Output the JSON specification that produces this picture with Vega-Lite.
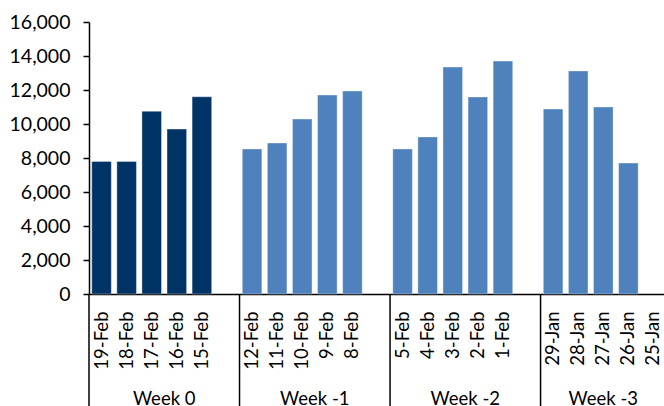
{
  "$schema": "https://vega.github.io/schema/vega-lite/v6.json",
  "autosize": "none",
  "padding": {"left": 89, "top": 22, "right": 0, "bottom": 112},
  "width": 577,
  "height": 272,
  "background": "white",
  "config": {
    "view": {"stroke": null},
    "font": "Lato",
    "axis": {"labelFont": "Lato", "labelColor": "#000", "labelFontSize": 18.5, "domainColor": "#000", "tickColor": "#000", "grid": false, "title": null, "labelOverlap": false},
    "axisX": {"labelAngle": -90, "labelAlign": "right", "labelBaseline": "middle", "labelPadding": 17, "ticks": false, "domainWidth": 1.5},
    "axisY": {"values": [0, 2000, 4000, 6000, 8000, 10000, 12000, 14000, 16000], "format": ",.0f", "formatType": "number", "tickSize": 6, "tickWidth": 1.5, "domainWidth": 1.5, "labelPadding": 13, "labelFontSize": 19.5}
  },
  "datasets": {
    "sales": [
      {"date": "19-Feb", "week": "Week 0", "value": 7800},
      {"date": "18-Feb", "week": "Week 0", "value": 7800},
      {"date": "17-Feb", "week": "Week 0", "value": 10750},
      {"date": "16-Feb", "week": "Week 0", "value": 9700},
      {"date": "15-Feb", "week": "Week 0", "value": 11600},
      {"date": "12-Feb", "week": "Week -1", "value": 8530},
      {"date": "11-Feb", "week": "Week -1", "value": 8880},
      {"date": "10-Feb", "week": "Week -1", "value": 10290},
      {"date": "9-Feb", "week": "Week -1", "value": 11700},
      {"date": "8-Feb", "week": "Week -1", "value": 11940},
      {"date": "5-Feb", "week": "Week -2", "value": 8530},
      {"date": "4-Feb", "week": "Week -2", "value": 9240},
      {"date": "3-Feb", "week": "Week -2", "value": 13350},
      {"date": "2-Feb", "week": "Week -2", "value": 11590},
      {"date": "1-Feb", "week": "Week -2", "value": 13700},
      {"date": "29-Jan", "week": "Week -3", "value": 10880},
      {"date": "28-Jan", "week": "Week -3", "value": 13120},
      {"date": "27-Jan", "week": "Week -3", "value": 11000},
      {"date": "26-Jan", "week": "Week -3", "value": 7700},
      {"date": "25-Jan", "week": "Week -3", "value": null}
    ],
    "weekStarts": [
      {"date": "19-Feb"},
      {"date": "12-Feb"},
      {"date": "5-Feb"},
      {"date": "29-Jan"}
    ],
    "weekLabelsEven": [
      {"date": "16-Feb", "week": "Week 0"},
      {"date": "9-Feb", "week": "Week -1"},
      {"date": "2-Feb", "week": "Week -2"}
    ],
    "weekLabelsOdd": [
      {"date": "27-Jan", "week": "Week -3"}
    ]
  },
  "layer": [
    {
      "data": {"name": "sales"},
      "mark": {"type": "bar", "width": {"band": 0.78}, "stroke": "#ffffff", "strokeWidth": 1, "strokeOpacity": 0.35},
      "encoding": {
        "x": {
          "field": "date",
          "type": "nominal",
          "sort": null,
          "scale": {
            "domain": ["19-Feb", "18-Feb", "17-Feb", "16-Feb", "15-Feb", " ",
                       "12-Feb", "11-Feb", "10-Feb", "9-Feb", "8-Feb", "  ",
                       "5-Feb", "4-Feb", "3-Feb", "2-Feb", "1-Feb", "   ",
                       "29-Jan", "28-Jan", "27-Jan", "26-Jan", "25-Jan"],
            "paddingInner": 0,
            "paddingOuter": 0
          }
        },
        "y": {
          "field": "value",
          "type": "quantitative",
          "scale": {"domain": [0, 16000], "nice": false, "zero": true}
        },
        "color": {
          "field": "week",
          "type": "nominal",
          "scale": {
            "domain": ["Week 0", "Week -1", "Week -2", "Week -3"],
            "range": ["#003366", "#4f81bd", "#4f81bd", "#4f81bd"]
          },
          "legend": null
        }
      }
    },
    {
      "data": {"name": "weekStarts"},
      "mark": {"type": "rule", "color": "#000", "strokeWidth": 1.5},
      "encoding": {
        "x": {"field": "date", "type": "nominal", "bandPosition": 0},
        "y": {"datum": 0, "type": "quantitative"},
        "y2": {"datum": -7000}
      }
    },
    {
      "data": {"name": "weekLabelsEven"},
      "mark": {"type": "text", "font": "Lato", "fontSize": 18.5, "color": "#000", "baseline": "top", "align": "center"},
      "encoding": {
        "x": {"field": "date", "type": "nominal", "bandPosition": 0},
        "y": {"datum": -5650, "type": "quantitative"},
        "text": {"field": "week"}
      }
    },
    {
      "data": {"name": "weekLabelsOdd"},
      "mark": {"type": "text", "font": "Lato", "fontSize": 18.5, "color": "#000", "baseline": "top", "align": "center"},
      "encoding": {
        "x": {"field": "date", "type": "nominal", "bandPosition": 0.5},
        "y": {"datum": -5650, "type": "quantitative"},
        "text": {"field": "week"}
      }
    }
  ]
}
